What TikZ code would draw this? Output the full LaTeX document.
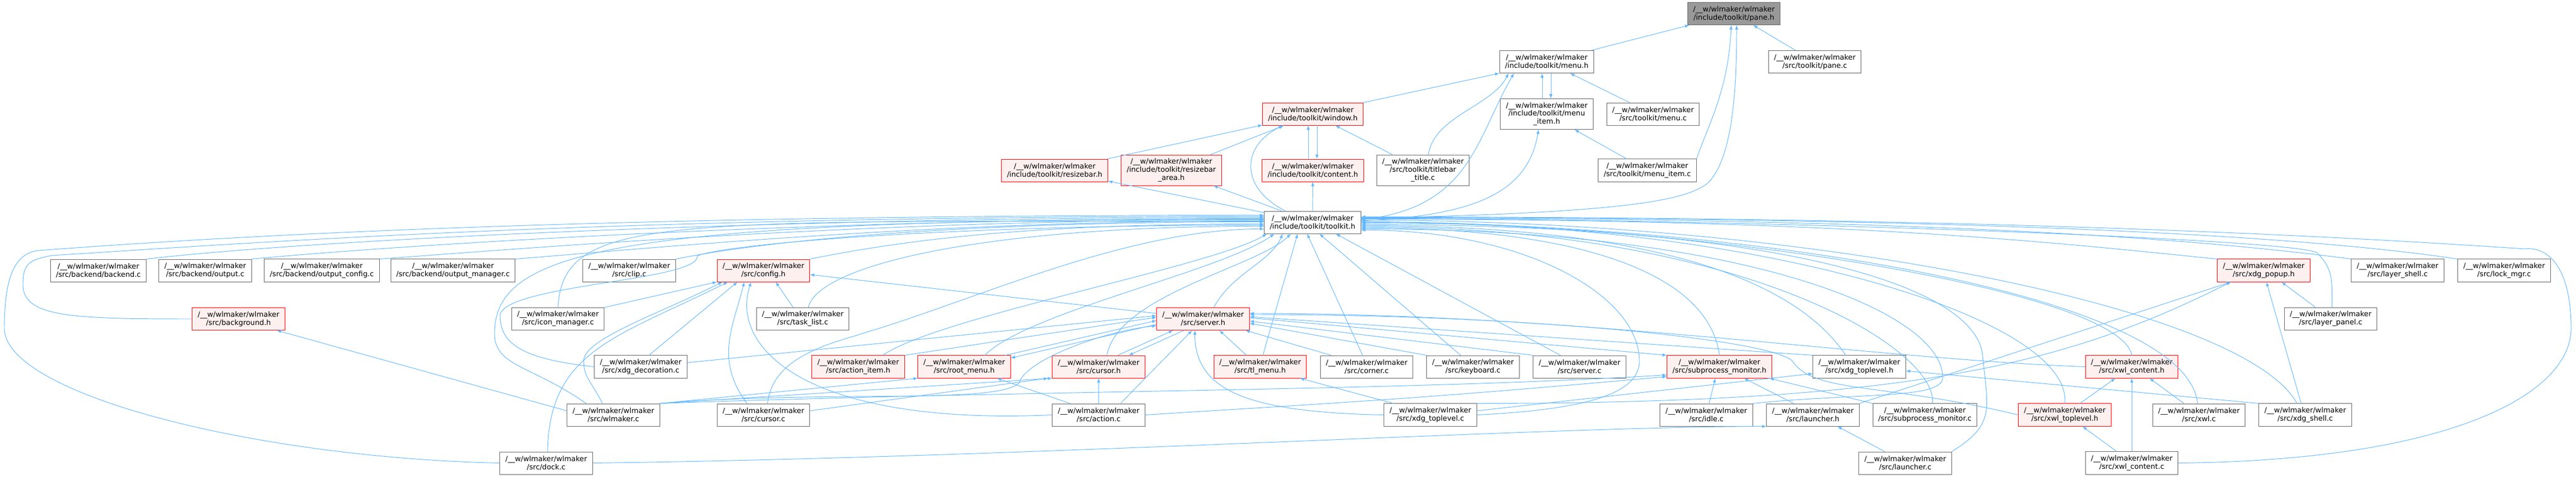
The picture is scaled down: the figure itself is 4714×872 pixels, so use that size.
\documentclass[tikz,border=0pt]{standalone}
\usepackage{fontspec}
\setmainfont{DejaVu Sans}
\definecolor{edgeblue}{HTML}{63B8FF}
\definecolor{boxgrey}{HTML}{666666}
\definecolor{partfill}{HTML}{FFF0F0}
\definecolor{rootfill}{HTML}{999999}

\begin{document}
\begin{tikzpicture}[x=0.2mm, y=-0.2mm,
        file/.style = {draw=boxgrey, fill=white, line width=0.55pt, align=center,
                       font=\fontsize{7.5}{8.5}\selectfont, inner xsep=2mm, inner ysep=1.3mm,
                       minimum height=8.2mm},
        part/.style = {file, draw=red, fill=partfill},
        root/.style = {file, fill=rootfill},
        incl/.style = {-{latex[scale=1.4]}, edgeblue, line width=0.55pt}
    ]
    \useasboundingbox (0,0) rectangle (4714,872);

    %Knoten oben
    \node at(3173,25)(paneh)[root]{/\_\_w/wlmaker/wlmaker\\/include/toolkit/pane.h};
    \node at(2830.5,113)(menuh)[file]{/\_\_w/wlmaker/wlmaker\\/include/toolkit/menu.h};
    \node at(3321,113)(panec)[file]{/\_\_w/wlmaker/wlmaker\\/src/toolkit/pane.c};
    \node at(2402.5,208.5)(winh)[part]{/\_\_w/wlmaker/wlmaker\\/include/toolkit/window.h};
    \node at(2830.5,208.5)(mih)[file]{/\_\_w/wlmaker/wlmaker\\/include/toolkit/menu\\\_item.h};
    \node at(3025,208.5)(menuc)[file]{/\_\_w/wlmaker/wlmaker\\/src/toolkit/menu.c};
    \node at(1930,311.5)(rbh)[part]{/\_\_w/wlmaker/wlmaker\\/include/toolkit/resizebar.h};
    \node at(2143.5,311)(rbah)[part]{/\_\_w/wlmaker/wlmaker\\/include/toolkit/resizebar\\\_area.h};
    \node at(2402.5,311.5)(conth)[part]{/\_\_w/wlmaker/wlmaker\\/include/toolkit/content.h};
    \node at(2604,311)(ttc)[file]{/\_\_w/wlmaker/wlmaker\\/src/toolkit/titlebar\\\_title.c};
    \node at(3014.5,311.5)(mic)[file]{/\_\_w/wlmaker/wlmaker\\/src/toolkit/menu\_item.c};
    \node at(2402,406.5)(tk)[file]{/\_\_w/wlmaker/wlmaker\\/include/toolkit/toolkit.h};

    %Knoten unten
    \node at(180,494.5)(backend)[file]{/\_\_w/wlmaker/wlmaker\\/src/backend/backend.c};
    \node at(375.5,494.5)(output)[file]{/\_\_w/wlmaker/wlmaker\\/src/backend/output.c};
    \node at(589,494.5)(outcfg)[file]{/\_\_w/wlmaker/wlmaker\\/src/backend/output\_config.c};
    \node at(829,494.5)(outmgr)[file]{/\_\_w/wlmaker/wlmaker\\/src/backend/output\_manager.c};
    \node at(1151.5,494.5)(clip)[file]{/\_\_w/wlmaker/wlmaker\\/src/clip.c};
    \node at(1397,494.5)(cfg)[part]{/\_\_w/wlmaker/wlmaker\\/src/config.h};
    \node at(4142.5,494.5)(xph)[part]{/\_\_w/wlmaker/wlmaker\\/src/xdg\_popup.h};
    \node at(4387.5,494.5)(lshell)[file]{/\_\_w/wlmaker/wlmaker\\/src/layer\_shell.c};
    \node at(4582.5,494.5)(lockmgr)[file]{/\_\_w/wlmaker/wlmaker\\/src/lock\_mgr.c};

    \node at(436.5,583)(bgh)[part]{/\_\_w/wlmaker/wlmaker\\/src/background.h};
    \node at(1021,583)(icm)[file]{/\_\_w/wlmaker/wlmaker\\/src/icon\_manager.c};
    \node at(1469,583)(tasklist)[file]{/\_\_w/wlmaker/wlmaker\\/src/task\_list.c};
    \node at(2201.5,583)(srv)[part]{/\_\_w/wlmaker/wlmaker\\/src/server.h};
    \node at(4265,583)(lpanel)[file]{/\_\_w/wlmaker/wlmaker\\/src/layer\_panel.c};

    \node at(1172.5,670.5)(xdeco)[file]{/\_\_w/wlmaker/wlmaker\\/src/xdg\_decoration.c};
    \node at(1570.5,670.5)(aih)[part]{/\_\_w/wlmaker/wlmaker\\/src/action\_item.h};
    \node at(1764.5,670.5)(rmh)[part]{/\_\_w/wlmaker/wlmaker\\/src/root\_menu.h};
    \node at(2010.5,670.5)(curh)[part]{/\_\_w/wlmaker/wlmaker\\/src/cursor.h};
    \node at(2306,670.5)(tlmh)[part]{/\_\_w/wlmaker/wlmaker\\/src/tl\_menu.h};
    \node at(2501,670.5)(corner)[file]{/\_\_w/wlmaker/wlmaker\\/src/corner.c};
    \node at(2695.5,670.5)(kbd)[file]{/\_\_w/wlmaker/wlmaker\\/src/keyboard.c};
    \node at(2890.5,670.5)(srvc)[file]{/\_\_w/wlmaker/wlmaker\\/src/server.c};
    \node at(3146.5,670.5)(smh)[part]{/\_\_w/wlmaker/wlmaker\\/src/subprocess\_monitor.h};
    \node at(3402.5,670.5)(xth)[file]{/\_\_w/wlmaker/wlmaker\\/src/xdg\_toplevel.h};
    \node at(3901,670.5)(xch)[part]{/\_\_w/wlmaker/wlmaker\\/src/xwl\_content.h};

    \node at(1122.5,758.5)(wlm)[file]{/\_\_w/wlmaker/wlmaker\\/src/wlmaker.c};
    \node at(1397,758.5)(curc)[file]{/\_\_w/wlmaker/wlmaker\\/src/cursor.c};
    \node at(2010.5,758.5)(actc)[file]{/\_\_w/wlmaker/wlmaker\\/src/action.c};
    \node at(2617.5,758.5)(xtc)[file]{/\_\_w/wlmaker/wlmaker\\/src/xdg\_toplevel.c};
    \node at(3122.5,758.5)(idle)[file]{/\_\_w/wlmaker/wlmaker\\/src/idle.c};
    \node at(3317.5,758.5)(lh)[file]{/\_\_w/wlmaker/wlmaker\\/src/launcher.h};
    \node at(3522.5,758.5)(smc)[file]{/\_\_w/wlmaker/wlmaker\\/src/subprocess\_monitor.c};
    \node at(3778.5,758.5)(xwth)[part]{/\_\_w/wlmaker/wlmaker\\/src/xwl\_toplevel.h};
    \node at(4024,758.5)(xwlc)[file]{/\_\_w/wlmaker/wlmaker\\/src/xwl.c};
    \node at(4218.5,758.5)(xshell)[file]{/\_\_w/wlmaker/wlmaker\\/src/xdg\_shell.c};

    \node at(999.5,846.5)(dock)[file]{/\_\_w/wlmaker/wlmaker\\/src/dock.c};
    \node at(3486.5,846.5)(lc)[file]{/\_\_w/wlmaker/wlmaker\\/src/launcher.c};
    \node at(3901,846.5)(xcc)[file]{/\_\_w/wlmaker/wlmaker\\/src/xwl\_content.c};

    %Pfeile oben
    \draw[incl] (menuh) -- (paneh);
    \draw[incl] (panec) -- (paneh);
    \draw[incl] (mic.north east) .. controls +(20,-60) and +(-5,120) .. ([xshift=-1mm]paneh.south);
    \draw[incl] ([yshift=1.5mm]tk.east) .. controls +(500,-10) and +(-40,30) .. (3125,335) .. controls +(40,-40) and +(0,150) .. ([xshift=1mm]paneh.south);
    \draw[incl] (winh.north east) -- (menuh.south west);
    \draw[incl] ([xshift=2mm]ttc.north) .. controls +(10,-70) and +(-30,60) .. ([xshift=-14mm]menuh.south);
    \draw[incl] ([yshift=1mm]tk.east) .. controls +(200,-20) and +(-70,120) .. ([xshift=-12mm]menuh.south);
    \draw[incl] ([yshift=0.5mm]tk.east) .. controls +(200,-10) and +(-20,120) .. ([xshift=-3mm]mih.south);
    \draw[incl] ([xshift=-1.7mm]mih.north) -- ([xshift=-1.7mm]menuh.south);
    \draw[incl] ([xshift=1.5mm]menuh.south) -- ([xshift=1.5mm]mih.north);
    \draw[incl] (menuc) -- (menuh);
    \draw[incl] (mic) -- (mih);
    \draw[incl] (rbh) -- (winh);
    \draw[incl] (rbah) -- (winh);
    \draw[incl] ([xshift=-1.7mm]conth.north) -- ([xshift=-1.7mm]winh.south);
    \draw[incl] ([xshift=1.5mm]winh.south) -- ([xshift=1.5mm]conth.north);
    \draw[incl] (ttc) -- (winh);
    \draw[incl] ([xshift=-10mm]tk.north) .. controls +(-80,-40) and +(-80,40) .. ([xshift=-11mm]winh.south);
    \draw[incl] (tk) -- (rbh);
    \draw[incl] (tk) -- (rbah);
    \draw[incl] (tk) -- (conth);

    %Pfeile toolkit.h links
    \draw[incl] (backend.north east) .. controls +(300,-35) and +(-900,0) .. ([yshift=1.8mm]tk.west);
    \draw[incl] (output.north east) .. controls +(300,-28) and +(-800,0) .. ([yshift=1.4mm]tk.west);
    \draw[incl] (outcfg.north east) .. controls +(300,-22) and +(-700,0) .. ([yshift=1mm]tk.west);
    \draw[incl] (outmgr.north east) .. controls +(250,-20) and +(-600,0) .. ([yshift=0.6mm]tk.west);
    \draw[incl] (bgh.west) .. controls +(-220,0) and +(0,60) .. (42,520) .. controls +(0,-40) and +(-40,8) .. (95,467) .. controls +(400,-25) and +(-1200,0) .. ([yshift=2.2mm]tk.west);
    \draw[incl] (dock.west) .. controls +(-450,-10) and +(0,120) .. (8,600) .. controls +(0,-100) and +(-40,5) .. (70,458) .. controls +(400,-30) and +(-1200,0) .. ([yshift=2.6mm]tk.west);
    \draw[incl] (clip.north east) .. controls +(200,-40) and +(-500,0) .. ([yshift=0.2mm]tk.west);
    \draw[incl] (cfg.north east) .. controls +(200,-40) and +(-400,0) .. ([yshift=-0.6mm]tk.west);
    \draw[incl] (icm.north) .. controls +(10,-170) and +(-1100,0) .. ([yshift=0.4mm]tk.west);
    \draw[incl] (xdeco.west) .. controls +(-140,-15) and +(0,50) .. (915,575) .. controls +(15,-55) and +(5,45) .. (1276,468) .. controls +(40,-20) and +(-600,0) .. ([yshift=-1mm]tk.west);
    \draw[incl] ([xshift=-10mm]wlm.north) .. controls +(-100,-70) and +(0,60) .. (905,610) .. controls +(0,-150) and +(-1200,0) .. ([yshift=1.2mm]tk.west);
    \draw[incl] ([xshift=2mm]tasklist.north) .. controls +(20,-80) and +(-500,0) .. ([yshift=-1.4mm]tk.west);
    \draw[incl] ([xshift=1.5mm]curc.north) .. controls +(10,-90) and +(-60,20) .. (1590,606) .. controls +(200,-60) and +(-250,0) .. ([yshift=-2.4mm]tk.west);

    %Pfeile toolkit.h unten
    \draw[incl] ([xshift=9mm]aih.north) .. controls +(100,-70) and +(-100,60) .. ([xshift=1mm]tk.south west);
    \draw[incl] ([xshift=7.5mm]rmh.north) .. controls +(80,-80) and +(-100,70) .. ([xshift=-14mm]tk.south);
    \draw[incl] ([xshift=4mm]srv.north) .. controls +(30,-60) and +(-20,50) .. ([xshift=-11mm]tk.south);
    \draw[incl] ([xshift=3mm]curh.north) .. controls +(20,-110) and +(-60,60) .. ([xshift=-8mm]tk.south);
    \draw[incl] ([xshift=1mm]tlmh.north) -- ([xshift=-5.5mm]tk.south);
    \draw[incl] ([xshift=-1.5mm]corner.north) -- ([xshift=-2mm]tk.south);
    \draw[incl] ([xshift=-4.5mm]kbd.north) -- ([xshift=2.5mm]tk.south);
    \draw[incl] ([xshift=-7mm]srvc.north) -- ([xshift=8.5mm]tk.south);

    %Pfeile toolkit.h rechts
    \draw[incl] (smh.north) .. controls +(-20,-150) and +(400,0) .. ([yshift=-2mm]tk.east);
    \draw[incl] ([xshift=-5mm]xth.north) .. controls +(-100,-150) and +(500,0) .. ([yshift=-1.2mm]tk.east);
    \draw[incl] (xtc.east) .. controls +(200,-10) and +(0,60) .. (3000,660) .. controls +(0,-120) and +(300,0) .. ([yshift=-2.8mm]tk.east);
    \draw[incl] (idle.north east) .. controls +(200,-20) and +(0,40) .. (3555,690) .. controls +(0,-120) and +(700,0) .. ([yshift=-2.4mm]tk.east);
    \draw[incl] ([xshift=2.8mm]smc.north) .. controls +(10,-100) and +(700,0) .. ([yshift=-1.6mm]tk.east);
    \draw[incl] (lc.north east) .. controls +(80,-50) and +(10,100) .. (3628,650) .. controls +(-10,-120) and +(800,0) .. ([yshift=-0.8mm]tk.east);
    \draw[incl] (xwth.north) .. controls +(15,-160) and +(700,-10) .. ([yshift=-0.4mm]tk.east);
    \draw[incl] (xch.north) .. controls +(-20,-120) and +(600,0) .. ([yshift=0.2mm]tk.east);
    \draw[incl] ([xshift=-0.5mm]xwlc.north) .. controls +(-20,-200) and +(700,0) .. (tk.east);
    \draw[incl] ([xshift=-3mm]xshell.north) .. controls +(-100,-180) and +(800,0) .. ([yshift=0.8mm]tk.east);
    \draw[incl] (xph.north west) .. controls +(-300,-30) and +(900,0) .. ([yshift=1.2mm]tk.east);
    \draw[incl] ([xshift=0.5mm]lpanel.north) .. controls +(0,-50) and +(30,30) .. (4240,462) .. controls +(-40,-25) and +(700,0) .. ([yshift=1.4mm]tk.east);
    \draw[incl] (lshell.north west) .. controls +(-300,-40) and +(1000,0) .. ([yshift=1.6mm]tk.east);
    \draw[incl] (lockmgr.north west) .. controls +(-300,-45) and +(1100,0) .. ([yshift=1.8mm]tk.east);
    \draw[incl] (xcc.east) .. controls +(500,-5) and +(0,120) .. (4705,600) .. controls +(0,-100) and +(50,-5) .. (4620,455) .. controls +(-300,-20) and +(1200,0) .. ([yshift=2mm]tk.east);

    %Pfeile config.h
    \draw[incl] (icm.north east) -- (cfg.south west);
    \draw[incl] ([xshift=0.5mm]dock.north) .. controls +(3,-186) and +(-200,100) .. ([xshift=-13mm]cfg.south);
    \draw[incl] ([xshift=-4mm]wlm.north) .. controls +(-20,-40) and +(0,30) .. (1068,660) .. controls +(0,-40) and +(-120,60) .. ([xshift=-15mm]cfg.south);
    \draw[incl] ([xshift=3mm]xdeco.north) -- ([xshift=-9.5mm]cfg.south);
    \draw[incl] ([xshift=-6mm]curc.north) .. controls +(-60,-80) and +(-20,80) .. ([xshift=-7mm]cfg.south);
    \draw[incl] (actc.west) .. controls +(-450,20) and +(-40,120) .. ([xshift=-4.5mm]cfg.south);
    \draw[incl] ([xshift=-3.5mm]tasklist.north) -- ([xshift=4.5mm]cfg.south);
    \draw[incl] ([yshift=2mm]srv.west) -- ([yshift=-1.5mm]cfg.east);

    %Pfeile server.h
    \draw[incl] ([xshift=-2mm]rmh.north east) -- ([yshift=-0.6mm]srv.west);
    \draw[incl] ([yshift=-2mm]srv.west) -- ([yshift=-1mm]rmh.north east);
    \draw[incl] ([xshift=7mm]curh.north) -- ([xshift=-11mm]srv.south);
    \draw[incl] ([xshift=-7mm]srv.south) -- ([xshift=11mm]curh.north);
    \draw[incl] (aih.north east) -- ([yshift=0.6mm]srv.west);
    \draw[incl] ([yshift=1.5mm]xdeco.east) -- ([yshift=1.2mm]srv.west);
    \draw[incl] (wlm.north east) .. controls +(300,-25) and +(-40,40) .. (1865,700) .. controls +(10,-40) and +(-100,10) .. ([yshift=-2.5mm]srv.west);
    \draw[incl] ([xshift=8mm]actc.north) -- ([xshift=-4mm]srv.south);
    \draw[incl] (xtc.west) .. controls +(-250,-5) and +(0,110) .. ([xshift=-3mm]srv.south);
    \draw[incl] ([xshift=-5mm]tlmh.north) -- ([xshift=6mm]srv.south);
    \draw[incl] ([xshift=-13mm]corner.north) -- ([xshift=-1.5mm]srv.south east);
    \draw[incl] (kbd.north west) -- ([yshift=-1.6mm]srv.east);
    \draw[incl] (srvc.north west) -- ([yshift=-0.8mm]srv.east);
    \draw[incl] (xth.north west) -- ([yshift=0.8mm]srv.east);
    \draw[incl] (xwth.west) .. controls +(-250,-60) and +(40,60) .. (3280,660) .. controls +(-40,-40) and +(500,0) .. ([yshift=1.6mm]srv.east);
    \draw[incl] (xch.west) .. controls +(-400,-15) and +(600,0) .. ([yshift=2mm]srv.east);

    %Pfeile restliche
    \draw[incl] ([yshift=0.4mm]srv.east) -- (smh.north west);
    \draw[incl] (wlm.north east) -- (rmh.south west);
    \draw[incl] (wlm.north east) -- (curh.south west);
    \draw[incl] (wlm.north east) .. controls +(700,-25) and +(-500,30) .. ([yshift=-3mm]smh.west);
    \draw[incl] ([yshift=1.5mm]wlm.west) -- ([xshift=14mm]bgh.south);
    \draw[incl] ([yshift=1.5mm]curc.east) -- ([xshift=-1.5mm]curh.south west);
    \draw[incl] (actc) -- (curh);
    \draw[incl] ([xshift=-10.5mm]actc.north) -- ([xshift=12mm]rmh.south);
    \draw[incl] (actc.east) .. controls +(400,-25) and +(-450,40) .. ([yshift=-3.6mm]smh.west);
    \draw[incl] ([xshift=1mm]idle.north) -- ([xshift=-1.5mm]smh.south);
    \draw[incl] ([xshift=-7mm]lh.north) -- ([xshift=9mm]smh.south);
    \draw[incl] (smc.north west) -- ([xshift=-1mm]smh.south east);
    \draw[incl] ([xshift=-13.5mm]xtc.north) -- ([xshift=-2.5mm]tlmh.south east);
    \draw[incl] ([yshift=1.5mm]xtc.east) -- ([yshift=-2.5mm]xth.west);
    \draw[incl] (xtc.north east) .. controls +(800,0) and +(-300,150) .. ([xshift=-12mm]xph.south);
    \draw[incl] (lh.north east) -- ([xshift=-12mm]xph.south);
    \draw[incl] ([xshift=-5.5mm]lpanel.north) -- ([xshift=6.5mm]xph.south);
    \draw[incl] ([xshift=-1.5mm]xshell.north) -- ([xshift=1mm]xph.south);
    \draw[incl] (xshell.north west) -- ([yshift=-1.5mm]xth.east);
    \draw[incl] ([xshift=-5.5mm]xwlc.north) -- ([xshift=6.5mm]xch.south);
    \draw[incl] ([xshift=5.5mm]xwth.north) -- ([xshift=-6mm]xch.south);
    \draw[incl] (xcc) -- (xch);
    \draw[incl] ([xshift=-5.5mm]xcc.north) -- ([xshift=6.5mm]xwth.south);
    \draw[incl] ([xshift=-7.5mm]lc.north) -- ([xshift=9mm]lh.south);
    \draw[incl] (dock.east) .. controls +(800,-10) and +(-400,0) .. (lh.south west);

\end{tikzpicture}
\end{document}
